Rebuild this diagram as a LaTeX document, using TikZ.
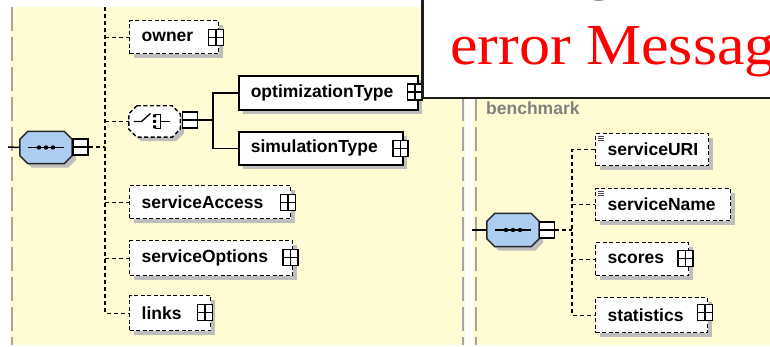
\documentclass[tikz,border=0pt]{standalone}
\usepackage{fontspec}
\setmainfont{Liberation Sans}
\newfontfamily\errfont[FakeStretch=1.07]{Liberation Serif}
\usetikzlibrary{calc}
\definecolor{bgyellow}{RGB}{255,252,212}
\definecolor{panelgray}{RGB}{165,165,165}
\definecolor{shadowgray}{RGB}{190,190,190}
\definecolor{seqblue}{RGB}{172,204,240}
\definecolor{labelgray}{RGB}{128,128,128}
\definecolor{errborder}{RGB}{30,30,30}
\newcommand\octpath[2]{($(#1.north west)+(#2,0)$) -- ($(#1.north east)+(-#2,0)$) -- ($(#1.north east)+(0,#2)$) -- ($(#1.south east)+(0,-#2)$) -- ($(#1.south east)+(-#2,0)$) -- ($(#1.south west)+(#2,0)$) -- ($(#1.south west)+(0,-#2)$) -- ($(#1.north west)+(0,#2)$) -- cycle}
\begin{document}
\begin{tikzpicture}[x=1pt,y=-1pt,
  lbl/.style={font=\fontsize{17.5}{20}\selectfont\bfseries},
  shad/.style={preaction={draw=none, fill=shadowgray, transform canvas={shift={(4pt,-4pt)}}}},
  elbase/.style={shad, fill=white, anchor=north west, inner xsep=12pt, inner ysep=0pt, align=left, lbl},
  optbox/.style={elbase, draw=black, dash pattern=on 4pt off 2.5pt, line width=1.4pt},
  reqbox/.style={elbase, draw=black, line width=1.6pt},
  plusbox/.style={draw=black, line width=1.2pt, fill=white, minimum width=15pt, minimum height=16pt, inner sep=0pt,
    path picture={\draw[line width=1.2pt] (path picture bounding box.north) -- (path picture bounding box.south)
      (path picture bounding box.west) -- (path picture bounding box.east);}},
  minusbox/.style={draw=black, line width=1.2pt, fill=white, minimum width=15pt, minimum height=16pt, inner sep=0pt,
    path picture={\draw[line width=1.2pt] (path picture bounding box.west) -- (path picture bounding box.east);}},
  seqnode/.style={rectangle, minimum width=52pt, minimum height=32pt, inner sep=0pt},
  choicenode/.style={rectangle, minimum width=51pt, minimum height=31pt, inner sep=0pt},
  seqshape/.style={draw=black!85, line width=1.5pt, fill=seqblue},
  choiceshape/.style={draw=black, dash pattern=on 4pt off 2.5pt, line width=1.4pt, fill=white},
  shadowshape/.style={fill=shadowgray, transform canvas={shift={(4pt,-4pt)}}},
  dconn/.style={draw=black, dash pattern=on 4pt off 3pt, line width=1.3pt},
  sconn/.style={draw=black, line width=1.5pt},
  pborder/.style={draw=panelgray, line width=2pt, dash pattern=on 24pt off 6pt},
  icon/.style={draw=black!70, line width=0.7pt}
]
\useasboundingbox (0,0) rectangle (770,347);
\clip (0,0) rectangle (770,347);
% panels
\fill[bgyellow] (10,7) rectangle (465,345);
\fill[bgyellow] (473,7) rectangle (770,345);
\draw[pborder] (12,7) -- (12,345);
\draw[pborder] (463,7) -- (463,345);
\draw[pborder] (476,7) -- (476,345);

% ---------- left panel ----------
\coordinate (inA) at (8,147);
\coordinate (vtop) at (105,7);
\coordinate (jc) at (213,120);
\node[seqnode] (seqA) at (46,147.5) {};
\fill[shadowshape] \octpath{seqA}{8};
\filldraw[seqshape] \octpath{seqA}{8};
\node[minusbox] (minA) at (80.5,147) {};
\draw[sconn] (inA) -- (seqA.west);
\draw[line width=1.3pt] (seqA.center) +(-18,0) -- +(18,0);
\fill (seqA.center) +(-7,0) circle (2.2pt) +(0,0) circle (2.2pt) +(7,0) circle (2.2pt);

\node[optbox, text width=65pt, minimum height=33pt] (owner) at (129,20) {owner};
\node[plusbox] (ownerP) at (216,37.5) {};

\node[choicenode] (ch) at (154.5,121.5) {};
\fill[shadowshape] \octpath{ch}{8};
\filldraw[choiceshape] \octpath{ch}{8};
\draw[line width=1.3pt] (ch.center) +(-21,0) -- +(-13,0) -- +(-4,-8);
\fill (ch.center) +(-1.5,-7) rectangle +(1.5,-4) +(-1.5,-1.5) rectangle +(1.5,1.5) +(-1.5,4) rectangle +(1.5,7);
\draw[line width=1.2pt] (ch.center) +(0,-7) -- +(6,-7) -- +(6,7) -- +(0,7) +(6,0) -- +(15,0);
\node[minusbox] (chM) at (190,120) {};

\node[reqbox, text width=155pt, minimum height=34pt] (opt) at (238,75) {optimizationType};
\node[plusbox] (optP) at (415,92) {};
\node[reqbox, text width=140pt, minimum height=33pt] (sim) at (238,131) {simulationType};
\node[plusbox] (simP) at (400.5,148.5) {};

\node[optbox, text width=137pt, minimum height=33pt] (acc) at (129,185) {serviceAccess};
\node[plusbox] (accP) at (288,202.5) {};
\node[optbox, text width=139pt, minimum height=35pt] (opts) at (129,240) {serviceOptions};
\node[plusbox] (optsP) at (290.5,257.5) {};
\node[optbox, text width=57pt, minimum height=35pt] (links) at (129,295) {links};
\node[plusbox] (linksP) at (205,312.5) {};

\draw[dconn] (minA.east) -- (minA.east -| vtop);
\draw[dconn] (vtop) |- (links.west);
\draw[dconn] (owner.west -| vtop) -- (owner.west);
\draw[dconn] (ch.west -| vtop) -- (ch.west);
\draw[dconn] (acc.west -| vtop) -- (acc.west);
\draw[dconn] (opts.west -| vtop) -- (opts.west);
\draw[sconn] (chM.east) -- (jc);
\draw[sconn] (opt.west) -| (jc) |- (sim.west);

% ---------- right panel ----------
\node[anchor=base west, text=labelgray, lbl, inner sep=0pt] (bench) at (486,115) {benchmark};
\coordinate (inB) at (472,230);
\coordinate (vB) at (572,0);
\node[seqnode, minimum height=33pt] (seqB) at (513,230) {};
\fill[shadowshape] \octpath{seqB}{8};
\filldraw[seqshape] \octpath{seqB}{8};
\node[minusbox] (minB) at (547,230) {};
\draw[sconn] (inB) -- (seqB.west);
\draw[line width=1.3pt] (seqB.center) +(-18,0) -- +(18,0);
\fill (seqB.center) +(-7,0) circle (2.2pt) +(0,0) circle (2.2pt) +(7,0) circle (2.2pt);

\node[optbox, text width=89pt, minimum height=32pt] (uri) at (595,133) {serviceURI};
\node[optbox, text width=111pt, minimum height=32pt] (name) at (595,188) {serviceName};
\node[optbox, text width=69pt, minimum height=33pt] (scores) at (595,242) {scores};
\node[plusbox] (scoresP) at (685.5,258.5) {};
\node[optbox, text width=88pt, minimum height=35pt] (stat) at (595,297) {statistics};
\node[plusbox] (statP) at (705,312.5) {};
\draw[icon] (uri.north west) ++(3,3) -- ++(6,0) ++(-6,2) -- ++(6,0) ++(-6,2) -- ++(6,0);
\draw[icon] (name.north west) ++(3,3) -- ++(6,0) ++(-6,2) -- ++(6,0) ++(-6,2) -- ++(6,0);

\draw[dconn] (minB.east) -- (minB.east -| vB);
\draw[dconn] (uri.west) -- (uri.west -| vB) -- (stat.west -| vB) -- (stat.west);
\draw[dconn] (name.west -| vB) -- (name.west);
\draw[dconn] (scores.west -| vB) -- (scores.west);

% ---------- error box ----------
\node[draw=errborder, line width=2.5pt, fill=white, anchor=north west, minimum width=380pt, minimum height=105pt, inner sep=0pt] (err) at (421,-8) {};
\node[anchor=base, font=\errfont\fontsize{58}{62}\selectfont, inner sep=0pt, text=black!85] (gfrag) at (600,-11) {g};
\node[anchor=base west, text=red, font=\errfont\fontsize{58}{62}\selectfont, inner sep=0pt] (errtxt) at (450,65) {error Messag};
\end{tikzpicture}
\end{document}
